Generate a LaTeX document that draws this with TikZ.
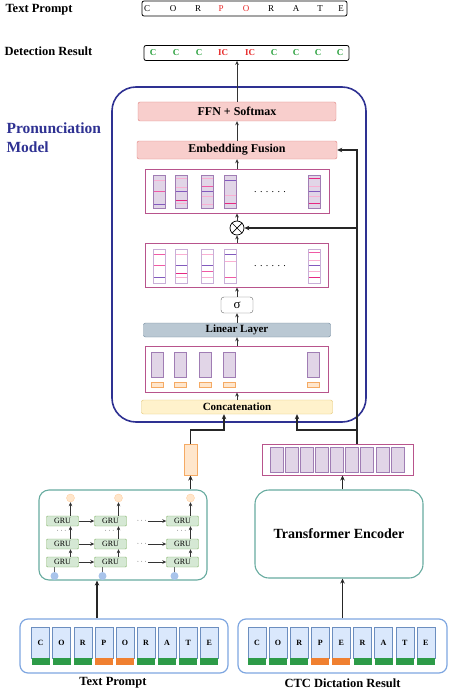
\documentclass[tikz,border=0pt]{standalone}
\usepackage{fontspec}
\setmainfont{Liberation Serif}
\usepackage{xcolor}
\usepackage{tikz}
\usetikzlibrary{shapes.geometric, arrows.meta, positioning}

\definecolor{pmblue}{RGB}{46,49,146}
\definecolor{ffnfill}{RGB}{248,206,204}
\definecolor{ffndraw}{RGB}{222,130,128}
\definecolor{blockdraw}{RGB}{184,84,140}
\definecolor{colfill}{RGB}{225,213,231}
\definecolor{coldraw}{RGB}{160,125,180}
\definecolor{colline}{RGB}{200,175,215}
\definecolor{pinkl}{RGB}{250,175,210}
\definecolor{pinkm}{RGB}{240,90,165}
\definecolor{magbar}{RGB}{230,40,130}
\definecolor{purbar}{RGB}{130,90,190}
\definecolor{linfill}{RGB}{186,200,211}
\definecolor{lindraw}{RGB}{110,135,155}
\definecolor{catfill}{RGB}{255,242,204}
\definecolor{catdraw}{RGB}{225,195,110}
\definecolor{embfill}{RGB}{255,230,204}
\definecolor{embdraw}{RGB}{245,170,100}
\definecolor{grufill}{RGB}{213,232,212}
\definecolor{grudraw}{RGB}{130,179,102}
\definecolor{tealdraw}{RGB}{103,171,159}
\definecolor{indotfill}{RGB}{169,196,235}
\definecolor{tokfill}{RGB}{218,232,252}
\definecolor{tokdraw}{RGB}{108,142,191}
\definecolor{tokbox}{RGB}{126,166,224}
\definecolor{okgreen}{RGB}{45,155,72}
\definecolor{errorange}{RGB}{240,128,48}
\definecolor{okC}{RGB}{40,160,60}
\definecolor{errC}{RGB}{230,40,40}

\begin{document}
\begin{tikzpicture}[
    x=1pt, y=-1pt,
    font=\bfseries,
    arrow/.style={-{Stealth[length=5pt, width=4.5pt]}, line width=1.1pt, black!85},
    thinarrow/.style={-{Stealth[length=4pt, width=3.6pt]}, line width=0.7pt, black!80},
    layer/.style={rectangle, draw, rounded corners=2pt, inner sep=0pt, font=\fontsize{11}{11}\selectfont\bfseries},
    feat/.style={rectangle, draw=blockdraw, line width=0.9pt, inner sep=0pt},
    featcol/.style={rectangle, draw=coldraw, fill=colfill, inner sep=0pt, minimum width=12pt},
    gru/.style={rectangle, draw=grudraw, fill=grufill, rounded corners=1pt, minimum width=32pt, minimum height=10pt, inner sep=0pt, font=\fontsize{8}{8}\selectfont\mdseries},
    tok/.style={rectangle, draw=tokdraw, fill=tokfill, minimum width=18pt, minimum height=31pt, inner sep=0pt, font=\fontsize{8}{8}\selectfont\bfseries},
    tokbar/.style={rectangle, minimum width=18pt, minimum height=7pt, inner sep=0pt},
    tokrow/.style={rectangle, draw=tokbox, line width=1.2pt, rounded corners=8pt, minimum width=208pt, minimum height=54pt},
    resrow/.style={rectangle, draw, line width=0.8pt, rounded corners=2pt, minimum width=205pt, minimum height=15pt, inner sep=0pt},
    dotsml/.style={inner sep=1pt, font=\scriptsize\mdseries},
    label/.style={font=\fontsize{12.5}{15}\selectfont\bfseries}
]
\useasboundingbox (0,0) rectangle (448,690);

\node[label, anchor=west] (tplabeltop) at (2,10) {Text Prompt};
\node[label, anchor=west] (detlabel) at (1,51) {Detection Result};
\node[resrow] (prompt) at (244.5,8.5) {};
\foreach \ch/\cx/\cc in {C/147/black, O/173/black, R/198/black, P/221/errC, O/246/errC, R/271/black, A/296/black, T/320/black, E/341/black}
  \node[text=\cc, font=\fontsize{9}{9}\selectfont\mdseries] at (\cx,8.5) {\ch};
\node[resrow] (det) at (246.5,53) {};
\foreach \ch/\cx/\cc in {C/153/okC, C/176/okC, C/199/okC, IC/223/errC, IC/250/errC, C/274/okC, C/296/okC, C/318/okC, C/340/okC}
  \node[text=\cc, font=\fontsize{9}{9}\selectfont\bfseries] at (\cx,53) {\ch};

\node[draw=pmblue, line width=1.6pt, rounded corners=24pt, minimum width=254pt, minimum height=335pt] (pm) at (239,254.5) {};
\node[text=pmblue, anchor=west, align=left, font=\fontsize{15.5}{19}\selectfont\bfseries] (pmlabel) at (3,137.5) {Pronunciation\\Model};

\node[layer, fill=ffnfill, draw=ffndraw, minimum width=198pt, minimum height=19pt, font=\fontsize{12}{12}\selectfont\bfseries] (ffn) at (237,111.5) {FFN + Softmax};
\node[layer, fill=ffnfill, draw=ffndraw, minimum width=200pt, minimum height=18pt, font=\fontsize{12}{12}\selectfont\bfseries] (fusion) at (237,150) {Embedding Fusion};

\node[feat, minimum width=184pt, minimum height=44pt] (mul) at (237,191) {};
\foreach \cx/\st [count=\i] in {159/{.17/pinkl,.5/pinkm,.88/purbar}, 181/{.1/pinkl,.38/pinkl,.5/purbar,.76/magbar,.85/pinkl}, 207/{.1/pinkl,.36/pinkm,.5/purbar,.64/pinkl,.89/pinkl}, 230/{.17/purbar,.62/pinkl,.87/magbar}, 314/{.1/magbar,.36/pinkl,.5/purbar,.64/pinkl,.87/magbar}} {
  \node[featcol, minimum height=33pt] (mulc\i) at (\cx,191.5) {};
  \foreach \sy/\stc in \st \draw[draw=\stc, line width=0.9pt] ({\cx-5.5},{175+\sy*33}) -- ({\cx+5.5},{175+\sy*33});
}
\node[font=\fontsize{10}{10}\selectfont\mdseries] (muldots) at (270,192) {. . . . . .};

\node[circle, draw, line width=0.7pt, minimum size=14pt, inner sep=0pt] (mulop) at (237,228) {};
\draw[line width=0.7pt] (mulop.45) -- (mulop.225) (mulop.135) -- (mulop.315);

\node[feat, minimum width=183pt, minimum height=44pt] (gate) at (237,265) {};
\foreach \cx/\st [count=\i] in {159/{.15/pinkm,.49/pinkm,.85/purbar}, 181/{.15/pinkl,.49/purbar,.73/magbar,.85/pinkl}, 207/{.15/pinkl,.49/purbar,.66/pinkm,.85/pinkl}, 230/{.15/purbar,.36/pinkl,.85/pinkm}, 314/{.09/pinkm,.33/pinkl,.49/purbar,.66/pinkl,.85/magbar}} {
  \node[featcol, fill=white, draw=colline, line width=0.8pt, minimum height=34pt] (gatec\i) at (\cx,266) {};
  \foreach \sy/\stc in \st \draw[draw=\stc, line width=0.9pt] ({\cx-5.5},{249+\sy*34}) -- ({\cx+5.5},{249+\sy*34});
}
\node[font=\fontsize{10}{10}\selectfont\mdseries] (gatedots) at (270,266) {. . . . . .};

\node[layer, draw=black!60, rounded corners=3pt, minimum width=32pt, minimum height=16pt, font=\fontsize{13}{13}\selectfont\mdseries] (sigma) at (237,305) {σ};
\node[layer, fill=linfill, draw=lindraw, minimum width=187pt, minimum height=14pt] (linear) at (237,330) {Linear Layer};

\node[feat, minimum width=183pt, minimum height=46pt] (cat) at (237,369) {};
\foreach \cx [count=\i] in {157,180.5,205.5,229.5,313.5} {
  \node[featcol, minimum height=25pt] (catc\i) at (\cx,364.5) {};
  \node[featcol, fill=embfill, draw=embdraw, minimum height=5pt] (cato\i) at (\cx,384.5) {};
}
\node[layer, fill=catfill, draw=catdraw, minimum width=191pt, minimum height=14pt] (concat) at (237,407) {Concatenation};

\draw[thinarrow] (ffn.north) -- (ffn.north |- det.south);
\draw[thinarrow] (fusion.north) -- (ffn.south);
\draw[thinarrow] (mul.north) -- (fusion.south);
\draw[thinarrow] (mulop.north) -- (mul.south);
\draw[thinarrow] (gate.north) -- (mulop.south);
\draw[thinarrow] (sigma.north) -- (gate.south);
\draw[thinarrow] (linear.north) -- (sigma.south);
\draw[thinarrow] (cat.north) -- (linear.south);
\draw[thinarrow] (concat.north) -- (cat.south);

\node[rectangle, fill=embfill, draw=embdraw, line width=1pt, minimum width=13pt, minimum height=31pt, inner sep=0pt] (emb) at (190.5,459.5) {};
\node[rectangle, draw=blockdraw, line width=1pt, minimum width=151pt, minimum height=31pt, inner sep=0pt] (trout) at (337.5,459.5) {};
\foreach \i in {0,...,8}
  \node[featcol, minimum width=13pt, minimum height=25pt] (troutc\i) at ({276.5+15.1*\i},459.5) {};

\coordinate (tap) at (357,430);
\draw[arrow] (trout.north -| tap) -- (tap |- fusion.east) -- (fusion.east);
\draw[arrow] (tap |- mulop) -- (mulop.east);
\draw[arrow] (tap) -| ([xshift=60pt]concat.south);
\draw[arrow] (emb.north) |- ([xshift=-13pt]concat.south |- tap) -- ([xshift=-13pt]concat.south);

\node[rectangle, draw=tealdraw, line width=1.1pt, rounded corners=10pt, minimum width=168pt, minimum height=90pt] (grubox) at (123,535) {};
\foreach \gx [count=\col] in {62.5,110.5,182.5} {
  \foreach \gy [count=\row] in {521,544,562}
    \node[gru] (gru\row\col) at (\gx,\gy) {GRU};
  \node[circle, fill=embfill, draw=embfill!80!orange, minimum size=8pt, inner sep=0pt] (out\col) at ({\gx+8},498) {};
  \node[circle, fill=indotfill, minimum size=8pt, inner sep=0pt] (in\col) at ({\gx-8},576) {};
  \node[dotsml] at ({\gx-1},531) {$\cdots$};
}
\foreach \col in {1,2,3} {
  \draw[thinarrow] (out\col |- gru1\col.north) -- (out\col.south);
  \draw[thinarrow] (out\col |- gru2\col.north) -- (out\col |- gru1\col.south);
  \draw[thinarrow] (out\col |- gru3\col.north) -- (out\col |- gru2\col.south);
  \draw[black!60, line width=0.6pt] (in\col.north) -- (in\col |- gru3\col.south);
}
\foreach \row in {1,2,3} {
  \draw[thinarrow] (gru\row1.east) -- (gru\row2.west);
  \node[dotsml] (hd\row) at ([xshift=15pt]gru\row2.east) {$\cdots$};
  \draw[thinarrow] (hd\row.east) -- (gru\row3.west);
}

\node[rectangle, draw=tealdraw, line width=1.1pt, rounded corners=14pt, minimum width=168pt, minimum height=88pt, font=\fontsize{14}{14}\selectfont\bfseries] (trenc) at (339,534) {Transformer Encoder};

\node[tokrow] (tpbox) at (124,646) {};
\node[tokrow, minimum width=209pt] (ctcbox) at (342.5,646) {};
\foreach \ch/\bc [count=\i from 0] in {C/okgreen, O/okgreen, R/okgreen, P/errorange, O/errorange, R/okgreen, A/okgreen, T/okgreen, E/okgreen} {
  \node[tok] (tpt\i) at ({40.5+21.1*\i},642.5) {\ch};
  \node[tokbar, fill=\bc] (tpb\i) at ({40.5+21.1*\i},661.5) {};
}
\foreach \ch/\bc [count=\i from 0] in {C/okgreen, O/okgreen, R/okgreen, P/errorange, E/errorange, R/okgreen, A/okgreen, T/okgreen, E/okgreen} {
  \node[tok] (ctct\i) at ({257+21.1*\i},642.5) {\ch};
  \node[tokbar, fill=\bc] (ctcb\i) at ({257+21.1*\i},661.5) {};
}
\node[label] (tplabel) at (113,683) {Text Prompt};
\node[label] (ctclabel) at (342.5,683) {CTC Dictation Result};

\draw[arrow] ([xshift=-27pt]tpbox.north) -- ([xshift=-27pt]tpbox.north |- grubox.south);
\draw[arrow] (grubox.north -| emb) -- (emb.south);
\draw[arrow] (ctcbox.north) -- (ctcbox.north |- trenc.south);
\draw[arrow] (trenc.north -| ctcbox) -- (trout.south -| ctcbox);

\end{tikzpicture}
\end{document}
